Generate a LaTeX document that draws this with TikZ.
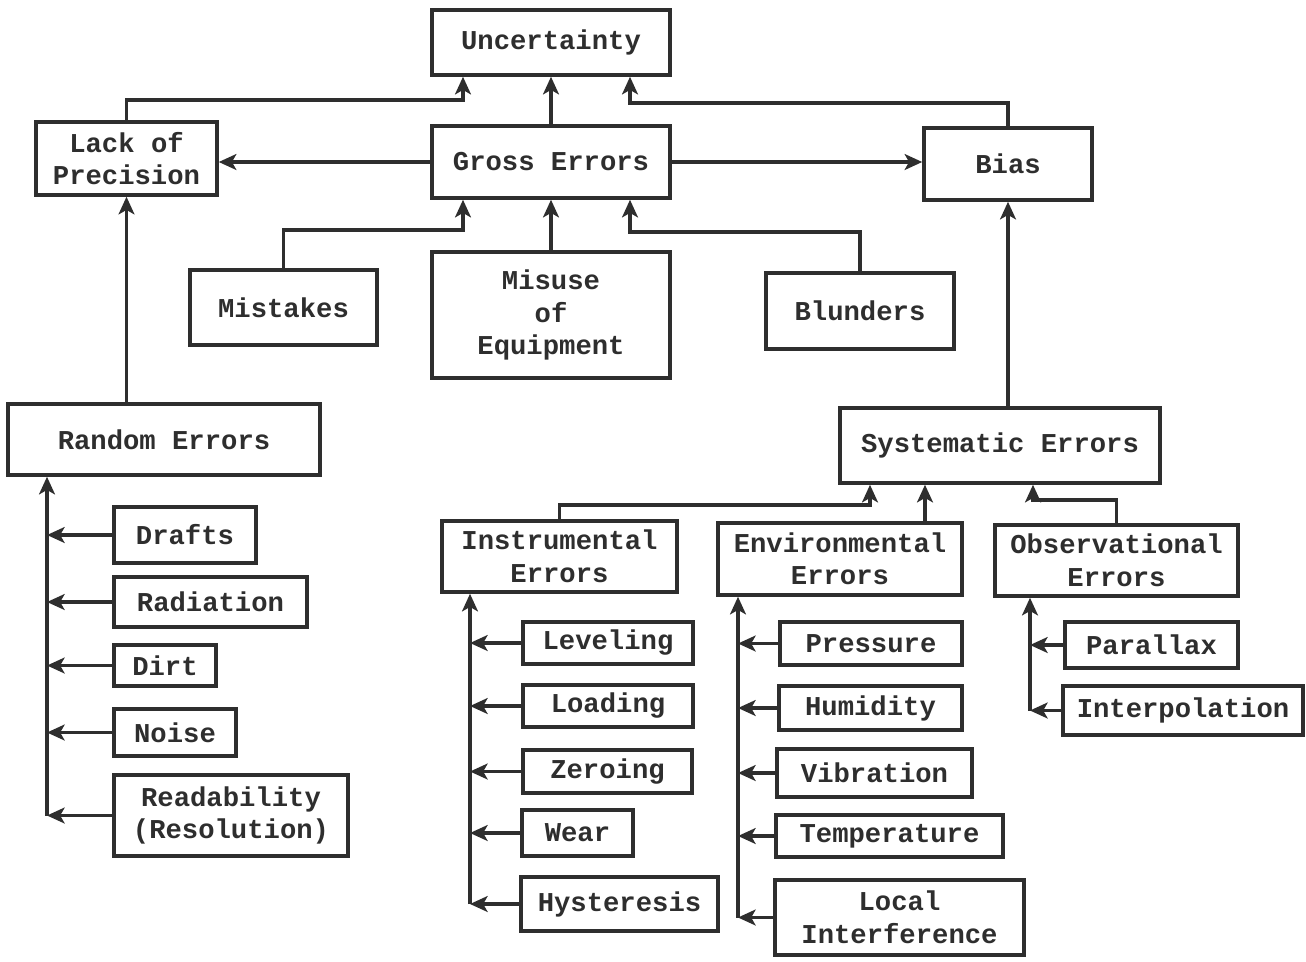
\documentclass[tikz,border=0pt]{standalone}
\usepackage{fontspec}
\setmonofont{Liberation Mono}
\usetikzlibrary{arrows.meta}
\definecolor{ink}{HTML}{2E2E2E}

\begin{document}
\begin{tikzpicture}[x=0.02cm, y=-0.02cm, color=ink,
    box/.style={draw, rectangle, line width=2pt, align=center, inner sep=1pt,
        font=\fontsize{15.5}{18.5}\selectfont\ttfamily\bfseries},
    arr/.style={line width=1.8pt, -{Stealth[length=10pt,width=9pt,inset=2.5pt]}}]
    \fill[white] (0,0) rectangle (1306,961);
    \useasboundingbox (0,0) rectangle (1306,961);

    \node[box, minimum width=4.76cm, minimum height=1.30cm] (unc) at (551,42.5) {Uncertainty};
    \node[box, minimum width=3.62cm, minimum height=1.46cm] (lop) at (126.5,158.5) {Lack of\\Precision};
    \node[box, minimum width=4.76cm, minimum height=1.44cm] (gross) at (551,162) {Gross Errors};
    \node[box, minimum width=3.36cm, minimum height=1.44cm] (bias) at (1008,164) {Bias};
    \node[box, minimum width=3.74cm, minimum height=1.50cm] (mist) at (283.5,307.5) {Mistakes};
    \node[box, minimum width=4.76cm, minimum height=2.52cm] (misuse) at (551,315) {Misuse\\of\\Equipment};
    \node[box, minimum width=3.76cm, minimum height=1.52cm] (blund) at (860,311) {Blunders};
    \node[box, minimum width=6.24cm, minimum height=1.42cm] (random) at (164,439.5) {Random Errors};
    \node[box, minimum width=6.40cm, minimum height=1.50cm] (syst) at (1000,445.5) {Systematic Errors};
    \node[box, minimum width=4.70cm, minimum height=1.42cm] (instr) at (559.5,556.5) {Instrumental\\Errors};
    \node[box, minimum width=4.88cm, minimum height=1.44cm] (env) at (840,559) {Environmental\\Errors};
    \node[box, minimum width=4.86cm, minimum height=1.42cm] (obs) at (1116.5,560.5) {Observational\\Errors};

    \node[box, minimum width=2.84cm, minimum height=1.12cm] (drafts) at (185,535) {Drafts};
    \node[box, minimum width=3.86cm, minimum height=1.00cm] (rad) at (210.5,602) {Radiation};
    \node[box, minimum width=2.04cm, minimum height=0.82cm] (dirt) at (165,665.5) {Dirt};
    \node[box, minimum width=2.44cm, minimum height=0.94cm] (noise) at (175,732.5) {Noise};
    \node[box, minimum width=4.68cm, minimum height=1.62cm] (read) at (231,815.5) {Readability\\(Resolution)};

    \node[box, minimum width=3.40cm, minimum height=0.84cm] (level) at (608,643) {Leveling};
    \node[box, minimum width=3.40cm, minimum height=0.84cm] (load) at (608,706) {Loading};
    \node[box, minimum width=3.38cm, minimum height=0.86cm] (zero) at (607.5,771.5) {Zeroing};
    \node[box, minimum width=2.22cm, minimum height=0.92cm] (wear) at (577.5,833) {Wear};
    \node[box, minimum width=3.94cm, minimum height=1.08cm] (hyst) at (619.5,904) {Hysteresis};

    \node[box, minimum width=3.64cm, minimum height=0.86cm] (press) at (871,643.5) {Pressure};
    \node[box, minimum width=3.66cm, minimum height=0.88cm] (humid) at (870.5,708) {Humidity};
    \node[box, minimum width=3.90cm, minimum height=0.96cm] (vibr) at (874.5,773) {Vibration};
    \node[box, minimum width=4.54cm, minimum height=0.84cm] (temp) at (889.5,836) {Temperature};
    \node[box, minimum width=4.98cm, minimum height=1.50cm] (local) at (899.5,917.5) {Local\\Interference};

    \node[box, minimum width=3.46cm, minimum height=0.92cm] (para) at (1151.5,645) {Parallax};
    \node[box, minimum width=4.80cm, minimum height=0.98cm] (interp) at (1183,710.5) {Interpolation};

    \coordinate (ul) at (463,100);
    \coordinate (ur) at (630,103);
    \coordinate (gl) at (463,230);
    \coordinate (gr) at (630,232);
    \coordinate (sl) at (870,505);
    \coordinate (sm) at (925,0);
    \coordinate (sr) at (1033,500);
    \coordinate (rsp) at (47,0);
    \coordinate (isp) at (470,0);
    \coordinate (esp) at (738,0);
    \coordinate (osp) at (1030,0);

    \draw[arr] (lop.north) |- (ul) -- (ul |- unc.south);
    \draw[arr] (gross.north) -- (unc.south);
    \draw[arr] (bias.north) |- (ur) -- (ur |- unc.south);
    \draw[arr] (gross.west) -- (gross.west -| lop.east);
    \draw[arr] (gross.east) -- (gross.east -| bias.west);

    \draw[arr] (mist.north) |- (gl) -- (gl |- gross.south);
    \draw[arr] (misuse.north) -- (gross.south);
    \draw[arr] (blund.north) |- (gr) -- (gr |- gross.south);

    \draw[arr] (random.north -| lop.south) -- (lop.south);
    \draw[arr] (syst.north -| bias.south) -- (bias.south);

    \draw[arr] (instr.north) |- (sl) -- (sl |- syst.south);
    \draw[arr] (env.north -| sm) -- (sm |- syst.south);
    \draw[arr] (obs.north) |- (sr) -- (sr |- syst.south);

    \draw[arr] (read.west -| rsp) -- (rsp |- random.south);
    \foreach \n in {drafts,rad,dirt,noise,read}
        \draw[arr] (\n.west) -- (\n.west -| rsp);

    \draw[arr] (hyst.west -| isp) -- (isp |- instr.south);
    \foreach \n in {level,load,zero,wear,hyst}
        \draw[arr] (\n.west) -- (\n.west -| isp);

    \draw[arr] (local.west -| esp) -- (esp |- env.south);
    \foreach \n in {press,humid,vibr,temp,local}
        \draw[arr] (\n.west) -- (\n.west -| esp);

    \draw[arr] (interp.west -| osp) -- (osp |- obs.south);
    \foreach \n in {para,interp}
        \draw[arr] (\n.west) -- (\n.west -| osp);
\end{tikzpicture}
\end{document}
